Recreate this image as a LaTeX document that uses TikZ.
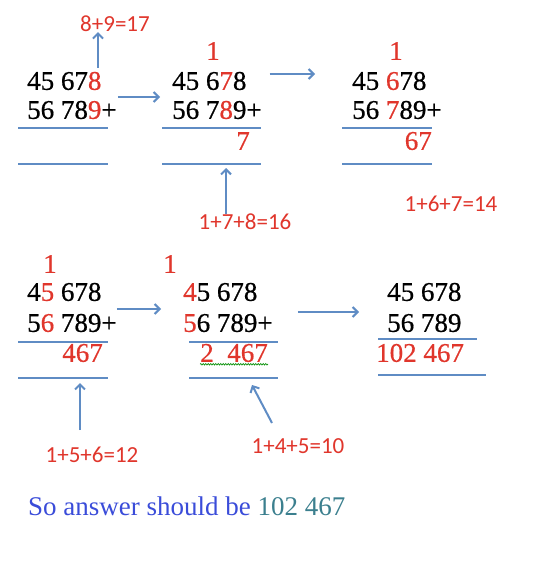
\documentclass[tikz,border=0pt]{standalone}
\usepackage{fontspec}
\setmainfont{Liberation Serif}
\newfontfamily\digitfont[FakeBold=0.6]{Liberation Serif}
\newfontfamily\labelfont{Carlito}
\usetikzlibrary{arrows.meta,decorations.pathmorphing}

\definecolor{sumred}{HTML}{E0362C}
\definecolor{ruleblue}{HTML}{5F8CC4}
\definecolor{textblue}{HTML}{3A4CD9}
\definecolor{textteal}{HTML}{3B7F8E}
\newcommand{\hl}[1]{\textcolor{sumred}{#1}}

\tikzset{
  numrow/.style={inner sep=0pt, anchor=west, font=\digitfont\fontsize{27}{27}\selectfont},
  carry/.style={inner sep=0pt, text=sumred, font=\digitfont\fontsize{27}{27}\selectfont},
  result/.style={inner sep=0pt, anchor=east, text=sumred, font=\digitfont\fontsize{27}{27}\selectfont},
  sumlabel/.style={inner sep=0pt, text=sumred, font=\labelfont\fontsize{23}{23}\selectfont},
  rule/.style={ruleblue, line width=2.2pt},
  link/.style={ruleblue, line width=2pt, -{Straight Barb[length=5pt,width=10pt]}},
}

\begin{document}
\begin{tikzpicture}[x=1pt,y=-1pt]
  \useasboundingbox (0,0) rectangle (548,572);

      % Define nodes
	  \node[numrow]   (top-1)   at (27,81)   {45 67\hl{8}};
	  \node[numrow]   (bot-1)   at (27,110)  {56 78\hl{9}+};
	  \node[sumlabel] (calc-1)  at (115,24)  {8+9=17};
	  \coordinate     (foot-1)  at (98,68);

	  \node[carry]    (carry-2) at (213,51)  {1};
	  \node[numrow]   (top-2)   at (172,81)  {45 6\hl{7}8};
	  \node[numrow]   (bot-2)   at (172,110) {56 7\hl{8}9+};
	  \node[result]   (sum-2)   at (250,141) {7};
	  \node[sumlabel] (calc-2)  at (245,222) {1+7+8=16};
	  \coordinate     (tip-2)   at (226,168);

	  \node[carry]    (carry-3) at (396,51)  {1};
	  \node[numrow]   (top-3)   at (352,81)  {45 \hl{6}78};
	  \node[numrow]   (bot-3)   at (352,110) {56 \hl{7}89+};
	  \node[result]   (sum-3)   at (432,141) {67};
	  \node[sumlabel] (calc-3)  at (451,204) {1+6+7=14};

	  \node[carry]    (carry-4) at (50,264)  {1};
	  \node[numrow]   (top-4)   at (27,292)  {4\hl{5} 678};
	  \node[numrow]   (bot-4)   at (27,323)  {5\hl{6} 789+};
	  \node[result]   (sum-4)   at (103,353) {467};
	  \node[sumlabel] (calc-4)  at (92,455)  {1+5+6=12};
	  \coordinate     (foot-4)  at (80,430);
	  \coordinate     (tip-4)   at (80,383);

	  \node[carry]    (carry-5) at (170,264) {1};
	  \node[numrow]   (top-5)   at (183,292) {\hl{4}5 678};
	  \node[numrow]   (bot-5)   at (183,323) {\hl{5}6 789+};
	  \node[result]   (sum-5)   at (268,353) {2\ \ 467};
	  \node[sumlabel] (calc-5)  at (298,446) {1+4+5=10};
	  \coordinate     (foot-5)  at (272,423);
	  \coordinate     (tip-5)   at (252,385);

	  \node[numrow]   (top-6)   at (387,292) {45 678};
	  \node[numrow]   (bot-6)   at (387,323) {56 789};
	  \node[numrow, text=sumred] (sum-6) at (376,353) {102 467};

	  \node[anchor=base west, inner sep=0pt, text=textblue,
	        font=\fontsize{27}{27}\selectfont] (answer) at (28,515)
	        {So answer should be \textcolor{textteal}{102 467}};

	  % Rules
	  \draw[rule] (18,128) -- (108,128);  \draw[rule] (18,164) -- (108,164);
	  \draw[rule] (162,128) -- (261,128); \draw[rule] (162,164) -- (261,164);
	  \draw[rule] (342,128) -- (432,128); \draw[rule] (342,164) -- (432,164);
	  \draw[rule] (18,342) -- (108,342);  \draw[rule] (18,378) -- (108,378);
	  \draw[rule] (189,342) -- (278,342); \draw[rule] (189,378) -- (278,378);
	  \draw[rule] (378,339) -- (477,339); \draw[rule] (378,375) -- (486,375);

	  % spell-check squiggle
	  \draw[green!55!black, line width=0.6pt, decorate,
	        decoration={zigzag, amplitude=0.8pt, segment length=2.5pt}]
	        ([yshift=-2pt]sum-5.south west) -- ([yshift=-2pt]sum-5.south east);

	  % Connect the nodes
	  \draw[link] (foot-1) -- (calc-1.south -| foot-1);
	  \draw[link] ([shift={(1,-13)}]bot-1.east) -- ([shift={(-12,-13)}]bot-2.west);
	  \draw[link] ([shift={(23,-7)}]top-2.east) -- ([shift={(-37,-7)}]top-3.west);
	  \draw[link] (calc-2.north -| tip-2) -- (tip-2);
	  \draw[link] ([shift={(0,-14)}]bot-4.east) -- ([shift={(-22,-14)}]bot-5.west);
	  \draw[link] ([shift={(25,-11)}]bot-5.east) -- ([shift={(-28,-11)}]bot-6.west);
	  \draw[link] (foot-4) -- (tip-4);
	  \draw[link] (foot-5) -- (tip-5);

\end{tikzpicture}
\end{document}
